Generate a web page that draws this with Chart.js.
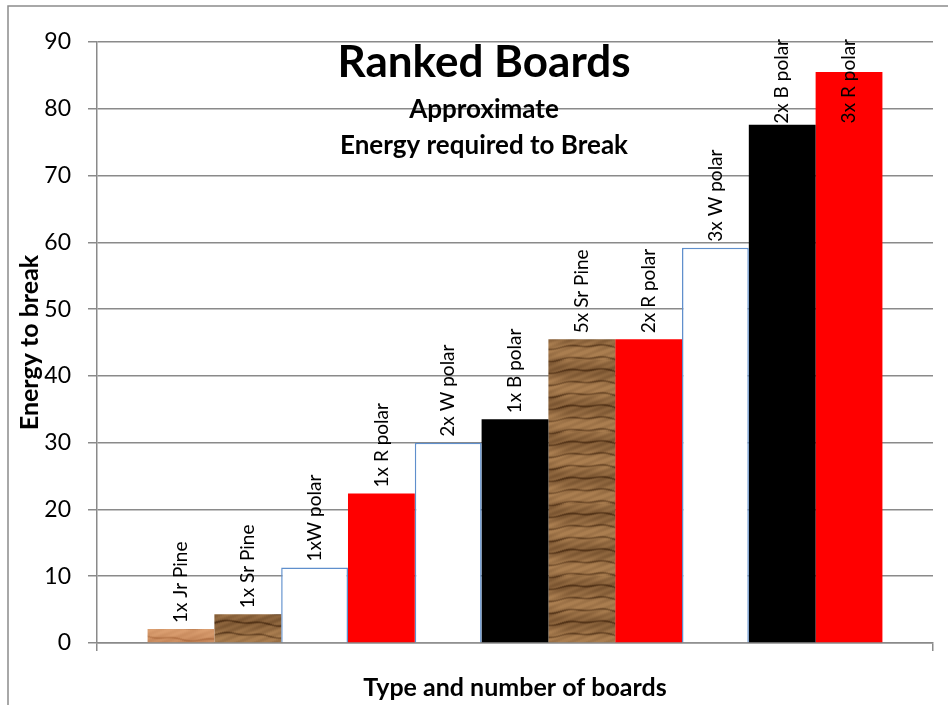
<!DOCTYPE html>
<html lang="en">
<head>
  <meta charset="UTF-8" />
  <title>Ranked Boards</title>
  <style>
    body { margin: 0; background: #fff; }
    #boards { display: block; }
  </style>
</head>
<body>
  <canvas id="boards" width="948" height="705"></canvas>

  <script src="https://cdn.jsdelivr.net/npm/chart.js"></script>
  <script>
    // board types, in ranked order
    const boardLabels = ['1x Jr Pine', '1x Sr Pine', '1xW polar', '1x R polar', '2x W polar',
                         '1x B polar', '5x Sr Pine', '2x R polar', '3x W polar', '2x B polar', '3x R polar'];
    // approximate energy needed to break each one
    const energyValues = [2.1, 4.3, 11.3, 22.4, 30.0, 33.5, 45.5, 45.5, 59.2, 77.6, 85.5];
    const yTicks = [0, 10, 20, 30, 40, 50, 60, 70, 80, 90];
    const titleLines = ['Ranked Boards', 'Approximate', 'Energy required to Break'];

    const FONT = 'Lato, "Open Sans", sans-serif';
    const GRID = '#8a8a8a';

    // wood grain texture, horizontal streaks that wander a little
    function woodPattern(light, dark, seed) {
      const W = 240, H = 72;
      const c = document.createElement('canvas');
      c.width = W; c.height = H;
      const g = c.getContext('2d');
      const tau = Math.PI * 2;
      for (let y = 0; y < H; y++) {
        for (let x = 0; x < W; x += 2) {
          const wob = 2.0 * Math.sin(x * tau / W * 2 + seed) + 1.0 * Math.sin(x * tau / W * 7 + seed * 2);
          const band = Math.sin((y + wob) * tau / H * 6 + seed);
          // light body with a few narrow dark streaks
          let t = 0.25 + 0.2 * Math.sin((y - wob) * tau / H * 2 + seed * 3)
                       + 0.55 * Math.pow(Math.max(0, band), 6)
                       + 0.1 * Math.sin(x * tau / W * 13 + y * 0.9);
          t = Math.max(0, Math.min(1, t));
          const col = light.map((v, k) => Math.round(v * (1 - t) + dark[k] * t));
          g.fillStyle = 'rgb(' + col.join(',') + ')';
          g.fillRect(x, y, 2, 1);
        }
      }
      return g.createPattern(c, 'repeat');
    }

    const jrPine = woodPattern([218, 158, 112], [176, 112, 68], 0.7);
    const srPine = woodPattern([170, 126, 80], [84, 52, 24], 2.1);

    function fillFor(label) {
      if (label.includes('Jr Pine')) return jrPine;
      if (label.includes('Sr Pine')) return srPine;
      if (label.includes('W polar')) return '#ffffff';
      if (label.includes('R polar')) return '#ff0000';
      return '#000000';
    }

    const datasets = boardLabels.map((lab, i) => {
      const white = lab.includes('W polar');
      return {
        label: lab,
        data: [energyValues[i]],
        backgroundColor: fillFor(lab),
        borderColor: white ? '#5f8fcc' : 'rgba(0,0,0,0)',
        borderWidth: white ? 1.5 : 0,
        borderSkipped: 'bottom',
        barPercentage: 1,
        categoryPercentage: 0.879
      };
    });

    // frame around the whole chart (cut off on right/bottom like the original)
    const framePlugin = {
      id: 'frame',
      beforeDraw(chart) {
        const ctx = chart.ctx;
        ctx.save();
        ctx.strokeStyle = '#8c8c8c';
        ctx.lineWidth = 1.5;
        ctx.strokeRect(8, 6, chart.width + 20, chart.height + 20);
        ctx.restore();
      }
    };

    // rotated names above each bar, plus the title block inside the plot
    const labelPlugin = {
      id: 'barNames',
      afterDatasetsDraw(chart) {
        const ctx = chart.ctx;
        const area = chart.chartArea;
        ctx.save();
        ctx.font = '19px ' + FONT;
        ctx.fillStyle = '#000';
        ctx.textBaseline = 'middle';
        ctx.textAlign = 'left';
        chart.data.datasets.forEach((ds, i) => {
          const bar = chart.getDatasetMeta(i).data[0];
          const w = ctx.measureText(ds.label).width;
          let bottom = bar.y - 6;
          if (bottom - w < area.top - 3) bottom = area.top - 3 + w;
          ctx.save();
          ctx.translate(bar.x, bottom);
          ctx.rotate(-Math.PI / 2);
          ctx.fillText(ds.label, 0, 0);
          ctx.restore();
        });

        const cx = 484;
        ctx.textAlign = 'center';
        ctx.textBaseline = 'alphabetic';
        ctx.font = 'bold 44px ' + FONT;
        ctx.fillText(titleLines[0], cx, 77);
        ctx.font = 'bold 26px ' + FONT;
        ctx.fillText(titleLines[1], cx, 118);
        ctx.fillText(titleLines[2], cx, 154);
        ctx.restore();
      }
    };

    new Chart(document.getElementById('boards'), {
      type: 'bar',
      data: { labels: [''], datasets: datasets },
      plugins: [framePlugin, labelPlugin],
      options: {
        responsive: false,
        animation: false,
        devicePixelRatio: 1,
        layout: { padding: { top: 42, right: 15, bottom: 0, left: 0 } },
        plugins: {
          legend: { display: false },
          tooltip: { enabled: false },
          title: { display: false }
        },
        scales: {
          x: {
            offset: true,
            ticks: { display: false },
            grid: { display: true, offset: true, drawOnChartArea: false, drawTicks: true, tickLength: 8, color: GRID, lineWidth: 1.5 },
            border: { display: true, color: GRID, width: 1.5 },
            title: {
              display: true,
              text: 'Type and number of boards',
              color: '#000',
              font: { family: FONT, size: 25, weight: 'bold' },
              padding: { top: 0, bottom: 2 }
            },
            afterFit(scale) { scale.height = 62; }
          },
          y: {
            min: yTicks[0],
            max: yTicks[yTicks.length - 1],
            afterBuildTicks(scale) { scale.ticks = yTicks.map(v => ({ value: v })); },
            ticks: { color: '#000', padding: 17, font: { family: FONT, size: 23 } },
            grid: { color: GRID, lineWidth: 1.5, drawTicks: true, tickLength: 9 },
            border: { display: true, color: GRID, width: 1.5 },
            title: {
              display: true,
              text: 'Energy to break',
              color: '#000',
              font: { family: FONT, size: 25, weight: 'bold' },
              padding: { top: 15, bottom: 0 }
            },
            afterFit(scale) { scale.width = 97; }
          }
        }
      }
    });
  </script>
</body>
</html>
